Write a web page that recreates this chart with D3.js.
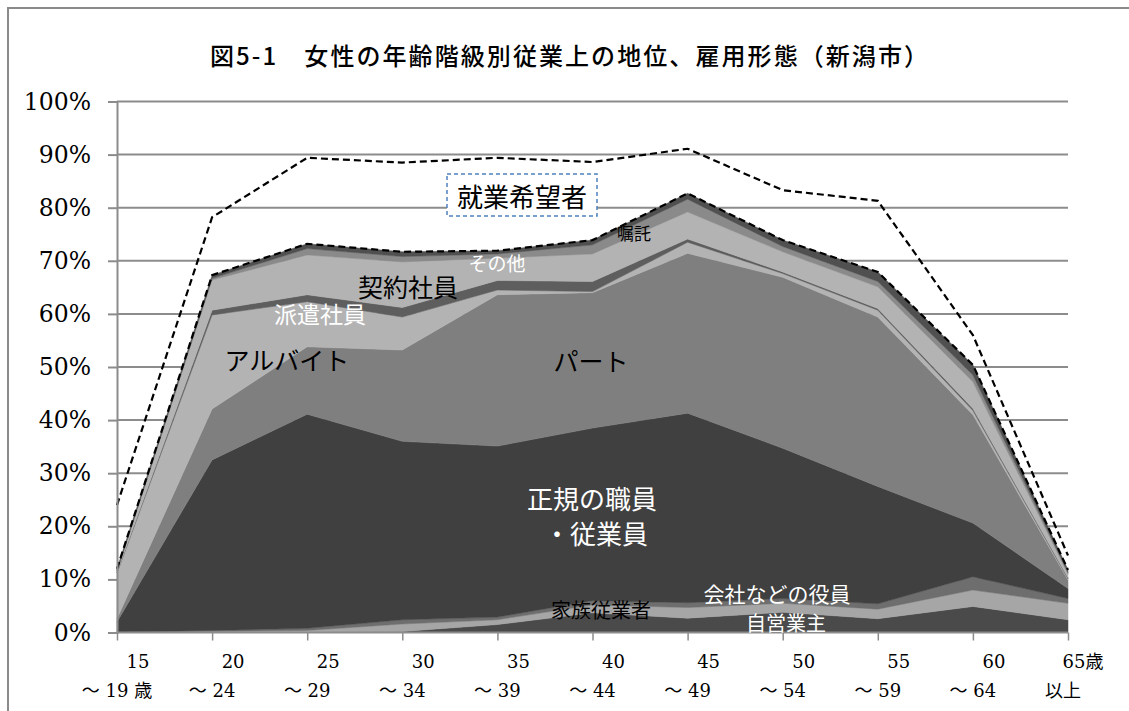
<!DOCTYPE html>
<html><head><meta charset="utf-8">
<script src="https://cdn.jsdelivr.net/npm/d3@7"></script>
<style>
html,body{margin:0;padding:0;background:#fff;}
svg{display:block;}
</style></head>
<body>
<svg id="chart" width="1129" height="711"></svg>
<script>
// ---- data ----
const categories = ["15-19","20-24","25-29","30-34","35-39","40-44","45-49","50-54","55-59","60-64","65+"];
const tickLine1 = ["15","20","25","30","35","40","45","50","55","60","65歳"];
const tickLine2 = ["～ 19 歳","～ 24","～ 29","～ 34","～ 39","～ 44","～ 49","～ 54","～ 59","～ 64","以上"];
const yTicks = [0,10,20,30,40,50,60,70,80,90,100];

const seriesNames = ["自営業主","家族従業者","会社などの役員","正規の職員・従業員","パート","アルバイト","派遣社員","契約社員","嘱託","その他"];
const selfEmployed = [0, 0, 0.1, 0.2, 1.5, 3.7, 2.7, 3.8, 2.6, 4.9, 2.4];
const familyWorker = [0, 0.2, 0.3, 1.4, 0.9, 1.5, 2.0, 1.7, 1.8, 3.1, 3.1];
const officer      = [0.1, 0.2, 0.4, 0.8, 0.5, 0.8, 0.9, 0.9, 1.0, 2.5, 0.9];
const regular      = [1.9, 32.1, 40.3, 33.6, 32.2, 32.5, 35.7, 28.3, 22.1, 10.1, 1.9];
const partTime     = [0.6, 9.6, 12.7, 17.2, 28.5, 25.5, 30.1, 32.2, 31.9, 20.4, 1.6];
const arbeit       = [8.6, 17.7, 8.5, 6.2, 0.9, 0.2, 2.1, 0.7, 1.3, 0.8, 0.2];
const dispatched   = [0.1, 0.9, 1.3, 1.8, 1.8, 1.9, 0.6, 0.3, 0.3, 0.4, 0.2];
const contract     = [0.2, 5.7, 7.5, 8.6, 4.2, 5.2, 5.1, 3.8, 4.1, 5.0, 0.7];
const shokutaku    = [0.1, 0.3, 1.2, 1.0, 0.8, 1.7, 2.4, 1.0, 1.0, 1.3, 0.3];
const others       = [0.4, 0.6, 0.9, 0.9, 0.6, 0.9, 1.1, 1.2, 1.8, 1.9, 0.5];
// employed + those wishing to work (dashed line)
const jobSeekersTotal = [24.0, 78.2, 89.4, 88.5, 89.4, 88.6, 91.1, 83.3, 81.3, 56.0, 14.5];

const seriesValues = [selfEmployed, familyWorker, officer, regular, partTime, arbeit, dispatched, contract, shokutaku, others];
const seriesColors = ["#4a4a4a","#a6a6a6","#6e6e6e","#404040","#7f7f7f","#b3b3b3","#5e5e5e","#b3b3b3","#8a8a8a","#505050"];

// ---- build table ----
const table = categories.map((c,i) => {
  const row = {cat:c};
  seriesNames.forEach((n,k) => row[n] = seriesValues[k][i]);
  return row;
});

const svg = d3.select("#chart");
const x = d3.scalePoint().domain(categories).range([117, 1068]);
const y = d3.scaleLinear().domain([0,100]).range([632.5, 101.5]);

// outer frame
svg.append("path").attr("d","M8,711 L8,8 L1129,8").attr("fill","none").attr("stroke","#8a8a8a").attr("stroke-width",2);

// title
svg.append("text").attr("x",569).attr("y",65).attr("text-anchor","middle")
  .attr("font-family","'Noto Sans CJK JP'").attr("font-size",24).attr("font-weight",500)
  .attr("textLength",718).attr("lengthAdjust","spacing")
  .attr("fill","#000").text("図5-1　女性の年齢階級別従業上の地位、雇用形態（新潟市）");

// gridlines
svg.append("g").selectAll("line").data(yTicks.filter(d=>d>0)).join("line")
  .attr("x1",117).attr("x2",1068).attr("y1",d=>y(d)).attr("y2",d=>y(d))
  .attr("stroke","#8c8c8c").attr("stroke-width",2);

// stacked areas
const stack = d3.stack().keys(seriesNames);
const stacked = stack(table);
const area = d3.area().x(d=>x(d.data.cat)).y0(d=>y(d[0])).y1(d=>y(d[1]));
svg.append("g").selectAll("path").data(stacked).join("path")
  .attr("d",area).attr("fill",(d,i)=>seriesColors[i])
  .attr("stroke",(d,i)=>seriesColors[i]).attr("stroke-width",0.5);

// dashed line at the top of the stack (employed total)
const topLayer = stacked[stacked.length-1];
svg.append("path").datum(topLayer)
  .attr("d", d3.line().x(d=>x(d.data.cat)).y(d=>y(d[1])))
  .attr("fill","none").attr("stroke","#000").attr("stroke-width",2.2).attr("stroke-dasharray","7,4");

// dashed line for job seekers
svg.append("path").datum(jobSeekersTotal)
  .attr("d", d3.line().x((d,i)=>x(categories[i])).y(d=>y(d)))
  .attr("fill","none").attr("stroke","#000").attr("stroke-width",2.2).attr("stroke-dasharray","7,4");

// y axis
const yAxis = svg.append("g").attr("transform","translate(117,0)")
  .call(d3.axisLeft(y).tickValues(yTicks).tickSize(9).tickPadding(17).tickFormat(d=>d+"%"));
yAxis.select(".domain").attr("stroke","#8c8c8c").attr("stroke-width",2);
yAxis.selectAll(".tick line").attr("stroke","#8c8c8c").attr("stroke-width",2);
yAxis.selectAll(".tick text").attr("font-family","'DejaVu Serif'").attr("font-size",23.5).attr("fill","#000");

// x axis
const xAxis = svg.append("g").attr("transform","translate(0,632.5)")
  .call(d3.axisBottom(x).tickSize(8).tickFormat(""));
xAxis.select(".domain").attr("stroke","#8c8c8c").attr("stroke-width",2).attr("d","M117,0H1068");
xAxis.selectAll(".tick line").attr("stroke","#8c8c8c").attr("stroke-width",1.5);

const xl = svg.append("g").attr("font-family","'DejaVu Serif','Noto Sans CJK JP'").attr("font-size",18).attr("fill","#000");
categories.forEach((c,i) => {
  const last = i === categories.length-1;
  xl.append("text").attr("x", x(c) + (last ? 15 : 21)).attr("y",668).attr("text-anchor","middle").text(tickLine1[i]);
  xl.append("text").attr("x", x(c) + (last ? -5 : 0)).attr("y",697).attr("text-anchor","middle").text(tickLine2[i]);
});

// 就業希望者 box (drawn before labels)
svg.append("rect").attr("x",447).attr("y",174).attr("width",150).attr("height",42)
  .attr("fill","#fff").attr("stroke","#4f81bd").attr("stroke-width",1.5).attr("stroke-dasharray","4,3");

// labels
const lab = svg.append("g").attr("font-family","'Noto Sans CJK JP'").attr("text-anchor","middle").attr("dominant-baseline","central");
function L(t,cx,cy,size,color){ lab.append("text").attr("x",cx).attr("y",cy).attr("font-size",size).attr("fill",color).text(t); }

L("就業希望者",522,195,26,"#000");
L("嘱託",634,232,17,"#000");
L("その他",497,262,19,"#fff");
L("契約社員",408,286,25,"#000");
L("派遣社員",320,313,23,"#fff");
L("アルバイト",287,359,25,"#000");
L("パート",591,360,25,"#000");
L("正規の職員",592,497,26,"#fff");
L("・従業員",596,532,26,"#fff");
L("家族従業者",601,609,20,"#000");
L("会社などの役員",777,593,21,"#fff");
L("自営業主",786,622,20,"#fff");
</script>
</body></html>
